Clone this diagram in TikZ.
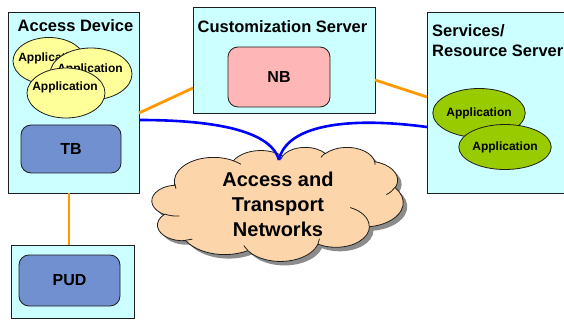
\documentclass[tikz,border=0pt]{standalone}
\usepackage{fontspec}
\setmainfont{Liberation Sans}
\usetikzlibrary{shapes.geometric}
\definecolor{boxcyan}{RGB}{204,255,255}
\definecolor{tbblue}{RGB}{112,144,208}
\definecolor{nbpink}{RGB}{255,182,182}
\definecolor{appyellow}{RGB}{255,255,153}
\definecolor{appgreen}{RGB}{153,204,0}
\definecolor{linkorange}{RGB}{255,153,0}
\definecolor{linkblue}{RGB}{0,0,255}
\definecolor{cloudfill}{RGB}{252,214,170}
\definecolor{cloudshadow}{RGB}{140,140,140}
\definecolor{edge}{RGB}{30,30,30}

% cloud outline built from elliptical arcs on a 43.2 x 43.2 grid (thousands of units)
\newcommand\cldsx{0.0058102}
\newcommand\cldsy{0.0026389}
\newcommand\cldkx{5.8102}
\newcommand\cldky{2.6389}
% #1 x radius, #2 y radius (grid units), #3 start angle, #4 sweep (degrees, y pointing down)
\newcommand\cldarc[4]{%
  \pgfmathsetmacro\cldta{atan2((#1)*sin(#3),(#2)*cos(#3))}%
  \pgfmathsetmacro\cldtb{atan2((#1)*sin((#3)+(#4)),(#2)*cos((#3)+(#4)))}%
  \pgfmathsetmacro\cldd{\cldtb-\cldta}%
  \pgfmathsetmacro\cldd{\cldd-360*round((\cldd-(#4))/360)}%
  \pgfmathsetmacro\cldrx{(#1)*\cldsx}%
  \pgfmathsetmacro\cldry{(#2)*\cldsy}%
  \pgfmathsetmacro\cldst{-\cldta}%
  \pgfmathsetmacro\cldend{-\cldta-\cldd}%
  \pgfpatharc{\cldst}{\cldend}{\cldrx pt and \cldry pt}%
}
% #1, #2 in thousands of grid units
\newcommand\cldmove[2]{%
  \pgfmathsetmacro\cldpx{(#1)*\cldkx}%
  \pgfmathsetmacro\cldpy{-(#2)*\cldky}%
  \pgfpathmoveto{\pgfpoint{\cldpx pt}{\cldpy pt}}%
}
\newcommand\cloudoutline{%
  \cldmove{3.900}{14.370}%
  \cldarc{6753}{9190}{-190.48748}{123.78053}%
  \cldarc{5333}{7267}{-144.10238}{89.94523}%
  \cldarc{4365}{5945}{-145.80792}{99.72302}%
  \cldarc{4857}{6595}{-130.98607}{117.24173}%
  \cldarc{5333}{7273}{-78.70888}{109.02692}%
  \cldarc{6775}{9220}{-46.26725}{130.269}%
  \cldarc{5785}{7867}{0.62502}{114.03333}%
  \cldarc{6752}{9215}{22.4516}{115.17255}%
  \cldarc{7720}{10543}{66.24263}{75.71102}%
  \cldarc{4360}{5918}{-274.94208}{146.73557}%
  \cldarc{4345}{5945}{-246.8285}{152.51885}%
  \pgfpathclose
}
\newcommand\cloudcreases{%
  \cldmove{4.693}{26.177}\cldarc{4345}{5945}{86.742}{26.4295}%
  \cldmove{6.928}{34.899}\cldarc{4360}{5918}{73.61047}{11.44747}%
  \cldmove{16.478}{39.090}\cldarc{6752}{9215}{137.62415}{14.0811}%
  \cldmove{28.827}{34.751}\cldarc{6752}{9215}{6.45327}{15.99835}%
  \cldmove{34.129}{22.954}\cldarc{5785}{7867}{-70.29235}{70.91737}%
  \cldmove{41.798}{15.354}\cldarc{5333}{7273}{30.31803}{27.7515}%
  \cldmove{38.324}{5.426}\cldarc{4857}{6595}{-13.74433}{14.8589}%
  \cldmove{29.078}{3.952}\cldarc{4857}{6595}{-149.18145}{18.19537}%
  \cldmove{22.141}{4.720}\cldarc{4365}{5945}{-163.49427}{17.68635}%
  \cldmove{14.000}{5.192}\cldarc{6753}{9190}{-66.70695}{12.31935}%
  \cldmove{4.127}{15.789}\cldarc{6753}{9190}{162.03635}{14.23748}%
}

\tikzset{
  hostbox/.style={draw=edge, line width=0.8pt, fill=boxcyan, rectangle, inner sep=0pt, anchor=north west},
  block/.style={draw=edge, line width=0.8pt, rounded corners=10pt, inner sep=0pt,
    font=\bfseries\fontsize{16}{18}\selectfont},
  title/.style={font=\bfseries\fontsize{16.5}{19.5}\selectfont, inner sep=0pt},
  appshape/.style={ellipse, draw=edge, line width=0.8pt, inner sep=0pt},
  apptext/.style={font=\bfseries\fontsize{12}{14}\selectfont, inner sep=0pt},
  orangelink/.style={draw=linkorange, line width=2.8pt},
  bluelink/.style={draw=linkblue, line width=2.6pt},
}
\begin{document}
\begin{tikzpicture}[x=1pt, y=-1pt]
\clip (0,0) rectangle (564,320);
\fill[white] (0,0) rectangle (564,320);

% host boxes
\node[hostbox, minimum width=131pt, minimum height=181pt] (ad) at (8,12) {};
\node[hostbox, minimum width=182pt, minimum height=106pt] (cs) at (193,7) {};
\node[hostbox, minimum width=160pt, minimum height=181pt] (rs) at (427,12) {};
\node[hostbox, minimum width=123pt, minimum height=73pt] (pb) at (11,245) {};

% titles
\node[title] (adt) at (75.5,26) {Access Device};
\node[title] (cst) at (282.5,26.5) {Customization Server};
\node[title, anchor=west, align=left] (rst) at (432,40.5) {Services/\\Resource Server};

% inner blocks
\node[block, fill=tbblue, minimum width=100pt, minimum height=48pt] (tb) at (71,149) {TB};
\node[block, fill=nbpink, minimum width=102pt, minimum height=60pt] (nb) at (279,77) {NB};
\node[block, fill=tbblue, minimum width=101pt, minimum height=51pt] (pud) at (69.5,280.5) {PUD};

% client applications
\node[appshape, fill=appyellow, minimum width=72pt, minimum height=47pt] (e1) at (49,61) {};
\node[apptext] (e1t) at (51,58) {Application};
\node[appshape, fill=appyellow, minimum width=82pt, minimum height=52pt] (e2) at (91,74) {};
\node[apptext] (e2t) at (90,69) {Application};
\node[appshape, fill=appyellow, minimum width=78pt, minimum height=50pt] (e3) at (66,93) {};
\node[apptext] (e3t) at (65,87) {Application};

% server applications
\node[appshape, fill=appgreen, minimum width=86pt, minimum height=49pt, font=\bfseries\fontsize{12}{14}\selectfont] (g1) at (479,113) {Application};
\node[appshape, fill=appgreen, minimum width=85pt, minimum height=45pt, font=\bfseries\fontsize{12}{14}\selectfont] (g2) at (505,147) {Application};

% network cloud: shadow, body, creases
\begin{pgfscope}
  \pgftransformshift{\pgfpoint{156pt}{-151pt}}
  \cloudoutline
  \pgfsetfillcolor{cloudshadow}
  \pgfusepath{fill}
\end{pgfscope}
\begin{pgfscope}
  \pgftransformshift{\pgfpoint{152pt}{-147pt}}
  \pgfsetlinewidth{0.8pt}
  \pgfsetstrokecolor{edge}
  \pgfsetfillcolor{cloudfill}
  \cloudoutline
  \pgfusepath{fill,stroke}
  \cloudcreases
  \pgfusepath{stroke}
\end{pgfscope}
\node[align=center, inner sep=0pt, font=\bfseries\fontsize{20}{25}\selectfont] (net) at (278,204)
  {Access and\\Transport\\Networks};

% attachment points
\coordinate (adO) at (139,113);
\coordinate (csO1) at (193,88);
\coordinate (csO2) at (375,80);
\coordinate (rsO) at (427,97);
\coordinate (adB) at (139,120);
\coordinate (rsB) at (427,127);
\coordinate (nettop) at (279,160);
\coordinate (adS) at (69,193);
\coordinate (pbN) at (69,245);

% orange links
\draw[orangelink] (adO) -- (csO1);
\draw[orangelink] (csO2) -- (rsO);
\draw[orangelink] (adS) -- (pbN);

% blue links into the cloud
\draw[bluelink] (adB) .. controls (205,120) and (270,128) .. (nettop);
\draw[bluelink] (nettop) .. controls (286,126) and (345,116) .. (rsB);
\end{tikzpicture}
\end{document}
